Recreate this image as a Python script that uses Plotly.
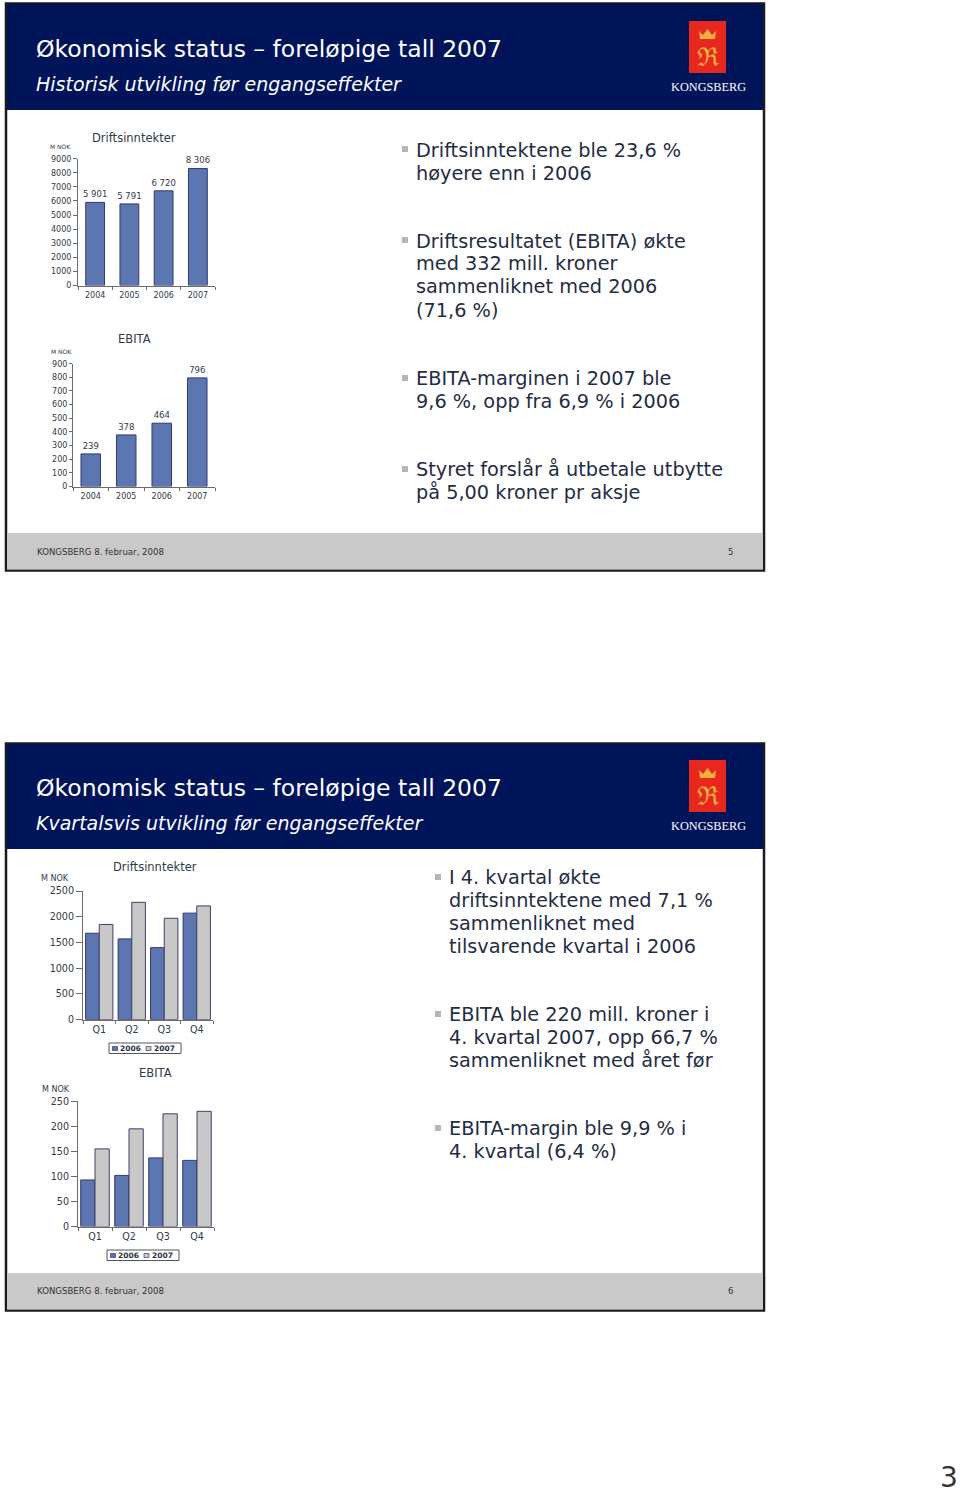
import plotly.graph_objects as go

W, H = 960, 1494
FONT = "DejaVu Sans"

# ---- data ----
years = ["2004", "2005", "2006", "2007"]
quarters = ["Q1", "Q2", "Q3", "Q4"]
revenue = [5901, 5791, 6720, 8306]
revenue_labels = ["5 901", "5 791", "6 720", "8 306"]
ebita = [239, 378, 464, 796]
ebita_labels = ["239", "378", "464", "796"]
q_rev_2006 = [1680, 1570, 1400, 2070]
q_rev_2007 = [1850, 2280, 1970, 2210]
q_ebita_2006 = [93, 102, 137, 132]
q_ebita_2007 = [155, 195, 225, 230]

slide1_title = "Økonomisk status – foreløpige tall 2007"
slide1_sub = "Historisk utvikling før engangseffekter"
slide2_sub = "Kvartalsvis utvikling før engangseffekter"
slide1_lines = [("Driftsinntektene ble 23,6 %", 150), ("høyere enn i 2006", 173),
                ("Driftsresultatet (EBITA) økte", 241), ("med 332 mill. kroner", 264),
                ("sammenliknet med 2006", 287), ("(71,6 %)", 310),
                ("EBITA-marginen i 2007 ble", 378), ("9,6 %, opp fra 6,9 % i 2006", 401),
                ("Styret forslår å utbetale utbytte", 469), ("på 5,00 kroner pr aksje", 492)]
slide2_lines = [("I 4. kvartal økte", 877), ("driftsinntektene med 7,1 %", 900),
                ("sammenliknet med", 923), ("tilsvarende kvartal i 2006", 946),
                ("EBITA ble 220 mill. kroner i", 1014), ("4. kvartal 2007, opp 66,7 %", 1037),
                ("sammenliknet med året før", 1060),
                ("EBITA-margin ble 9,9 % i", 1128), ("4. kvartal (6,4 %)", 1151)]

BLUE, BLUE_EDGE = "#5c76b2", "#343a6a"
GREY, GREY_EDGE = "#c8c8c8", "#3c4068"
NAVY = "#00145a"
TXT = "#2f3a48"
AXC = "#6b6b6b"
GOLD = "#f0b040"


def px(x):
    return x / W


def py(y):
    return 1 - y / H


shapes, annos = [], []


def rect(x0, y0, x1, y1, fill, line=None, lw=0):
    shapes.append(dict(type="rect", xref="paper", yref="paper", x0=px(x0), x1=px(x1),
                       y0=py(y0), y1=py(y1), fillcolor=fill, layer="below",
                       line=dict(color=line or fill, width=lw)))


def text(t, x, y, size, color=TXT, anchor="left", family=FONT, italic=False):
    annos.append(dict(text=f"<i>{t}</i>" if italic else t, x=px(x), y=py(y), xref="paper", yref="paper",
                      xanchor=anchor, yanchor="middle", showarrow=False, borderpad=0,
                      font=dict(size=size, color=color, family=family)))


def crown(dy):
    pts = [(700, 39), (699, 31), (703, 35), (707.5, 29), (712, 35), (716, 31), (715, 39)]
    d = "M" + " L".join(f"{px(x):.5f},{py(y + dy):.5f}" for x, y in pts) + " Z"
    shapes.append(dict(type="path", xref="paper", yref="paper", path=d, fillcolor=GOLD,
                       layer="below", line=dict(color=GOLD, width=0)))


def slide(dy, sub, num, fo):
    rect(6, 3.5 + dy + fo, 764, 570.5 + dy + fo, "white", "#1a1a1a", 2.5)
    rect(7, 4 + dy + fo, 763, 110 + dy, NAVY)
    rect(7, 533 + dy + fo, 763, 569.5 + dy + fo, "#c9c9c9")
    text(slide1_title, 35, 49 + dy, 23.5, "white")
    text(sub, 35, 84 + dy, 19, "white", italic=True)
    rect(689, 21 + dy, 726, 73 + dy, "#e8281e")
    crown(dy)
    text("ℜ", 707.5, 57 + dy, 26, GOLD, "center", "DejaVu Serif")
    text("KONGSBERG", 708, 87 + dy, 12.3, "white", "center", "Liberation Serif")
    text("KONGSBERG 8. februar, 2008", 36, 552 + dy, 8.6, "#333333")
    text(num, 730, 552 + dy, 8.6, "#333333", "center")


slide(0, slide1_sub, "5", 0)
slide(739, slide2_sub, "6", 1)

for t, y in slide1_lines:
    text(t, 415, y, 19.3, "#1f2d45")
for t, y in slide2_lines:
    text(t, 448, y, 19.3, "#1f2d45")
for y in (149, 240, 378, 469):
    rect(402, y - 3, 408, y + 3, "#b4b8b4")
for y in (877, 1014, 1128):
    rect(435, y - 3, 441, y + 3, "#b4b8b4")

text("3", 949, 1477, 28, "#333333", "center")

# chart titles and unit labels
text("Driftsinntekter", 134, 138, 11.5, anchor="center")
text("EBITA", 134, 339, 11.5, anchor="center")
text("Driftsinntekter", 155, 867, 11.5, anchor="center")
text("EBITA", 155, 1073, 11.5, anchor="center")
text("M NOK", 60, 146, 6, anchor="center")
text("M NOK", 61, 351, 6, anchor="center")
text("M NOK", 55, 878, 8, anchor="center")
text("M NOK", 56, 1089, 8, anchor="center")


def legend_box(x0, y0):
    rect(x0, y0, x0 + 72, y0 + 10.5, "white", "#555555", 1)
    rect(x0 + 3.5, y0 + 3.5, x0 + 8.5, y0 + 7.5, BLUE, BLUE_EDGE, 0.7)
    text("<b>2006</b>", x0 + 10, y0 + 5.5, 7.5, "#2a2f45")
    rect(x0 + 37, y0 + 3.5, x0 + 42, y0 + 7.5, GREY, GREY_EDGE, 0.7)
    text("<b>2007</b>", x0 + 44, y0 + 5.5, 7.5, "#2a2f45")


legend_box(109, 1043)
legend_box(107, 1250)

fig = go.Figure()


def axes(n, x0, x1, ytop, y0, ymax, dtick, tick_size, cats, ticklen, standoff):
    sx = "" if n == 1 else str(n)
    fig.update_layout({
        f"xaxis{sx}": dict(domain=[px(x0), px(x1)], anchor=f"y{sx}", type="category",
                           categoryorder="array", categoryarray=cats, range=[-0.5, 3.5],
                           showgrid=False, zeroline=False, showline=True, linecolor=AXC, linewidth=1,
                           ticks="outside", ticklen=3, tickcolor=AXC, tickson="boundaries",
                           ticklabelstandoff=standoff,
                           tickfont=dict(size=tick_size, family=FONT, color=TXT)),
        f"yaxis{sx}": dict(domain=[py(y0), py(ytop)], anchor=f"x{sx}", range=[0, ymax], dtick=dtick,
                           showgrid=False, zeroline=False, showline=True, linecolor=AXC, linewidth=1,
                           ticks="outside", ticklen=ticklen, tickcolor=AXC, tickformat="d",
                           tickfont=dict(size=tick_size, family=FONT, color=TXT)),
    })


def single(n, cats, vals, labels):
    sx = "" if n == 1 else str(n)
    fig.add_trace(go.Bar(x=cats, y=vals, text=labels, textposition="outside", cliponaxis=False,
                         constraintext="none", width=0.55, xaxis=f"x{sx}", yaxis=f"y{sx}",
                         textfont=dict(size=8.5, family=FONT, color=TXT), textangle=0,
                         marker=dict(color=BLUE, line=dict(color=BLUE_EDGE, width=1)), showlegend=False))


def grouped(n, cats, a, b):
    sx = "" if n == 1 else str(n)
    for name, vals, c, e in (("2006", a, BLUE, BLUE_EDGE), ("2007", b, GREY, GREY_EDGE)):
        fig.add_trace(go.Bar(x=cats, y=vals, name=name, xaxis=f"x{sx}", yaxis=f"y{sx}",
                             marker=dict(color=c, line=dict(color=e, width=1)), showlegend=False))


single(1, years, revenue, revenue_labels)
single(2, years, ebita, ebita_labels)
grouped(3, quarters, q_rev_2006, q_rev_2007)
grouped(4, quarters, q_ebita_2006, q_ebita_2007)

axes(1, 78, 215, 158.7, 285.5, 9000, 1000, 8, years, 4, 2)
axes(2, 73, 215, 363.7, 486.5, 900, 100, 8, years, 3, 2)
axes(3, 83, 213, 891, 1019.7, 2500, 500, 9.6, quarters, 6, 1)
axes(4, 78, 214, 1101.3, 1226.5, 250, 50, 9.6, quarters, 6, 1)

fig.update_layout(width=W, height=H, margin=dict(l=0, r=0, t=0, b=0, autoexpand=False), autosize=False,
                  paper_bgcolor="white", plot_bgcolor="rgba(0,0,0,0)",
                  barmode="group", bargap=0.16, bargroupgap=0,
                  shapes=shapes, annotations=annos, showlegend=False,
                  font=dict(family=FONT))
fig.write_html("out.html", config=dict(displayModeBar=False),
               post_script="document.body.style.margin='0';document.documentElement.style.overflow='hidden';")
